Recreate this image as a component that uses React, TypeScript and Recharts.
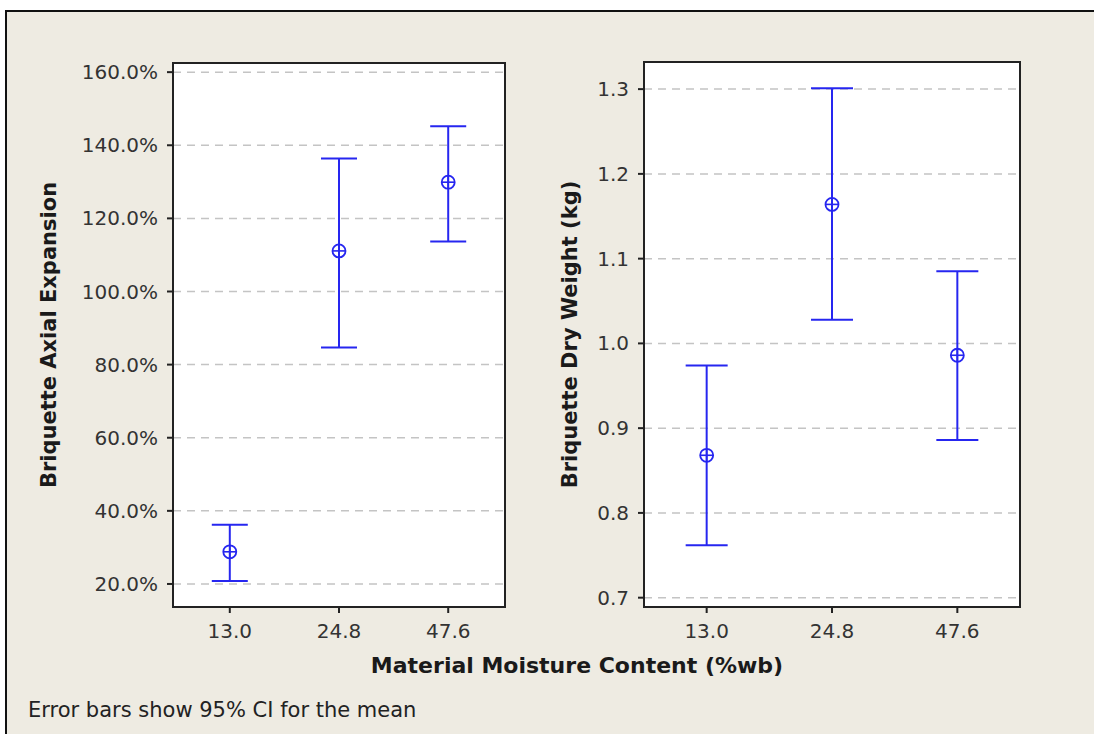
import React from 'react';
import { ComposedChart, Scatter, XAxis, YAxis, CartesianGrid, ErrorBar, ReferenceArea } from 'recharts';

const categories = ['13.0', '24.8', '47.6'];

const expansionMean = [28.8, 111.1, 129.9];
const expansionLower = [20.8, 84.7, 113.7];
const expansionUpper = [36.2, 136.4, 145.2];
const expansionTicks = [20, 40, 60, 80, 100, 120, 140, 160];
const expansionDomain = [13.7, 162.5];

const weightMean = [0.868, 1.164, 0.986];
const weightLower = [0.762, 1.028, 0.886];
const weightUpper = [0.974, 1.301, 1.085];
const weightTicks = [0.7, 0.8, 0.9, 1.0, 1.1, 1.2, 1.3];
const weightDomain = [0.689, 1.332];

const categoryIndex = categories.map((_, i) => i);

const BLUE = '#2626f0';
const FONT = '"DejaVu Sans", Verdana, sans-serif';
const FRAME = { stroke: '#222', strokeWidth: 2 };

function build(mean: number[], lower: number[], upper: number[]) {
  return categories.map((c, i) => ({
    idx: i,
    cat: c,
    mean: mean[i],
    err: [mean[i] - lower[i], upper[i] - mean[i]],
  }));
}

const Marker = (props: any) => {
  const { cx, cy } = props;
  if (cx == null || cy == null) return null;
  const r = 6.5;
  return (
    <g>
      <circle cx={cx} cy={cy} r={r} fill="none" stroke={BLUE} strokeWidth={1.8} />
      <line x1={cx - r} y1={cy} x2={cx + r} y2={cy} stroke={BLUE} strokeWidth={1.6} />
      <line x1={cx} y1={cy - r} x2={cx} y2={cy + r} stroke={BLUE} strokeWidth={1.6} />
    </g>
  );
};

type PanelProps = {
  data: any[];
  ticks: number[];
  domain: number[];
  xDomain: number[];
  fmt: (v: number) => string;
  title: string;
  left: number;
  width: number;
  margin: { top: number; right: number; bottom: number; left: number };
  yAxisWidth: number;
  titleX: number;
  capHalf: number;
};

const Panel = (p: PanelProps) => (
  <div style={{ position: 'absolute', left: p.left, top: 0 }}>
    <ComposedChart width={p.width} height={734} data={p.data} margin={p.margin}>
      <CartesianGrid vertical={false} stroke="#c4c4c4" strokeDasharray="8 6" strokeWidth={1.5} fill="#ffffff" fillOpacity={1} />
      <XAxis
        dataKey="idx"
        type="number"
        domain={p.xDomain}
        ticks={categoryIndex}
        allowDataOverflow
        tickFormatter={(v: number) => categories[v] ?? ''}
        height={40}
        axisLine={FRAME}
        tickLine={FRAME}
        tickSize={6}
        tick={{ fill: '#333', fontSize: 20, fontFamily: FONT }}
        tickMargin={11}
      />
      <YAxis
        type="number"
        domain={p.domain}
        ticks={p.ticks}
        allowDataOverflow
        width={p.yAxisWidth}
        axisLine={FRAME}
        tickLine={FRAME}
        tickSize={6}
        tickMargin={9}
        tickFormatter={p.fmt}
        tick={{ fill: '#333', fontSize: 20, fontFamily: FONT }}
        label={{
          content: (lp: any) => {
            const vb = lp.viewBox || {};
            const cy = vb.y + vb.height / 2;
            return (
              <text
                x={p.titleX}
                y={cy}
                transform={`rotate(-90, ${p.titleX}, ${cy})`}
                textAnchor="middle"
                dominantBaseline="central"
                fontFamily={FONT}
                fontWeight="bold"
                fontSize={21}
                fill="#1a1a1a"
              >
                {p.title}
              </text>
            );
          },
        }}
      />
      <ReferenceArea
        x1={p.xDomain[0]}
        x2={p.xDomain[1]}
        y1={p.domain[0]}
        y2={p.domain[1]}
        fill="none"
        stroke="#222"
        strokeWidth={2}
        ifOverflow="visible"
      />
      <Scatter dataKey="mean" shape={<Marker />} isAnimationActive={false}>
        <ErrorBar dataKey="err" direction="y" width={p.capHalf} stroke={BLUE} strokeWidth={2} isAnimationActive={false} />
      </Scatter>
    </ComposedChart>
  </div>
);

export default function App() {
  const expData = build(expansionMean, expansionLower, expansionUpper);
  const wData = build(weightMean, weightLower, weightUpper);
  return (
    <div style={{ position: 'absolute', left: 0, top: 0, width: 1094, height: 734, background: '#ffffff', overflow: 'hidden' }}>
      <div
        style={{
          position: 'absolute',
          left: 5,
          top: 10,
          width: 1100,
          height: 740,
          background: '#eeebe2',
          borderLeft: '2px solid #111',
          borderTop: '2px solid #111',
        }}
      />
      <Panel
        data={expData}
        ticks={expansionTicks}
        domain={expansionDomain}
        xDomain={[-0.52, 2.52]}
        fmt={(v) => `${v.toFixed(1)}%`}
        title="Briquette Axial Expansion"
        left={0}
        width={540}
        margin={{ top: 63, right: 35, bottom: 87, left: 73 }}
        yAxisWidth={100}
        titleX={49}
        capHalf={18}
      />
      <Panel
        data={wData}
        ticks={weightTicks}
        domain={weightDomain}
        xDomain={[-0.5, 2.5]}
        fmt={(v) => v.toFixed(1)}
        title="Briquette Dry Weight (kg)"
        left={540}
        width={554}
        margin={{ top: 62, right: 74, bottom: 87, left: 24 }}
        yAxisWidth={80}
        titleX={30}
        capHalf={21}
      />
      <div
        style={{
          position: 'absolute',
          left: 577,
          top: 665,
          transform: 'translate(-50%, -50%)',
          whiteSpace: 'nowrap',
          fontFamily: FONT,
          fontWeight: 'bold',
          fontSize: 22,
          color: '#1a1a1a',
        }}
      >
        Material Moisture Content (%wb)
      </div>
      <div
        style={{
          position: 'absolute',
          left: 28,
          top: 710,
          transform: 'translateY(-50%)',
          whiteSpace: 'nowrap',
          fontFamily: FONT,
          fontSize: 21,
          color: '#222',
        }}
      >
        Error bars show 95% CI for the mean
      </div>
    </div>
  );
}
